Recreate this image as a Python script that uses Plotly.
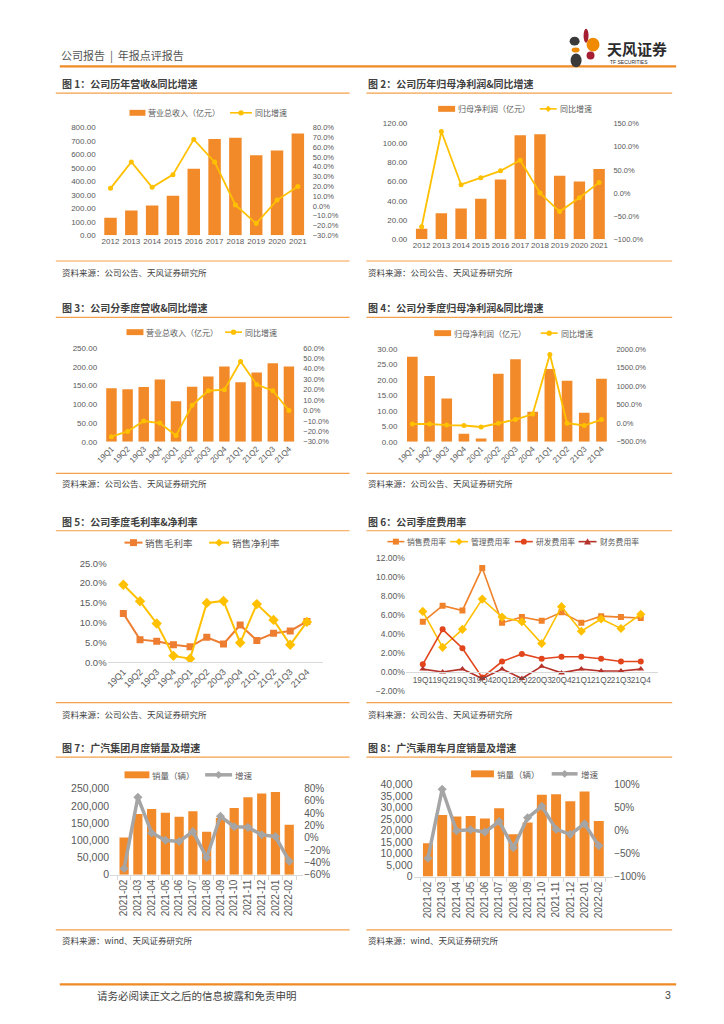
import plotly.graph_objects as go

# page is 724x1024; the html body adds an 8px margin, so the figure is 708x1008
PW, PH = 724, 1024
OFF = 8
FW, FH = PW - 2 * OFF, PH - 2 * OFF
def fx(px): return (px - OFF) / FW
def fy(py): return 1 - (py - OFF) / FH

# ---------------- data ----------------
years = ['2012', '2013', '2014', '2015', '2016', '2017', '2018', '2019', '2020', '2021']
rev_annual = [130, 185, 222, 294, 494, 716, 724, 594, 631, 757]
rev_annual_yoy = [18, 45, 19, 32, 68, 45, 1, -18, 6, 20]
np_annual = [11, 27, 32, 42, 62, 108, 109, 66, 60, 73]
np_annual_yoy = [-73, 133, 18, 33, 48, 71, 0, -40, -10, 23]

quarters = ['19Q1', '19Q2', '19Q3', '19Q4', '20Q1', '20Q2', '20Q3', '20Q4', '21Q1', '21Q2', '21Q3', '21Q4']
rev_q = [143, 140, 146, 166, 108, 147, 174, 201, 159, 185, 209, 201]
rev_q_yoy = [-25, -20, -10, -12, -24, 5, 19, 20, 47, 25, 19, 0]
np_q = [27.5, 21.3, 14.0, 2.6, 1.1, 22.0, 26.7, 9.7, 23.5, 19.7, 9.4, 20.4]
np_q_yoy = [-20, -20, -50, -60, -100, 0, 100, 250, 1850, 0, -60, 100]

gross_margin = [12.3, 5.7, 5.3, 4.4, 3.9, 6.3, 4.6, 9.4, 5.5, 7.3, 7.9, 10.3]
net_margin = [19.6, 15.4, 9.8, 1.6, 0.9, 15.0, 15.5, 4.9, 14.7, 10.7, 4.4, 10.2]

sell_exp = [5.3, 7.0, 6.5, 11.0, 5.2, 5.8, 5.4, 6.3, 5.2, 5.9, 5.8, 5.7]
admin_exp = [6.4, 2.6, 4.5, 7.7, 5.8, 5.3, 3.0, 6.9, 4.3, 5.6, 4.6, 6.1]
rd_exp = [0.8, 4.5, 2.5, -0.6, 1.1, 1.9, 1.4, 1.6, 1.6, 1.4, 1.1, 1.1]
fin_exp = [0.3, 0.0, 0.3, -0.7, 0.3, -0.7, 0.6, -0.1, 0.3, 0.1, 0.1, 0.3]

months = ['2021-02', '2021-03', '2021-04', '2021-05', '2021-06', '2021-07', '2021-08',
          '2021-09', '2021-10', '2021-11', '2021-12', '2022-01', '2022-02']
gac_sales = [108000, 176000, 191000, 180000, 168000, 184000, 125000, 165000, 194000, 225000, 236000, 240000, 145000]
gac_yoy = [-50, 66, 8, -4, -6, 10, -32, 35, 18, 17, 5, 2, -38]
gacpv_sales = [14500, 26800, 26200, 26400, 25300, 29700, 18400, 23500, 35600, 35900, 32800, 37000, 24200]
gacpv_yoy = [-60, 90, 0, 2, -3, 20, -37, 28, 53, 3, -8, 15, -33]

titles = ['图 1：公司历年营收&同比增速', '图 2：公司历年归母净利润&同比增速',
          '图 3：公司分季度营收&同比增速', '图 4：公司分季度归母净利润&同比增速',
          '图 5：公司季度毛利率&净利率', '图 6：公司季度费用率',
          '图 7：广汽集团月度销量及增速', '图 8：广汽乘用车月度销量及增速']
src_a = '资料来源：公司公告、天风证券研究所'
src_b = '资料来源：wind、天风证券研究所'

# ---------------- styles ----------------
BAR = '#F28A2A'
YEL = '#FFC000'
GRAY = '#A5A5A5'
ORG = '#ED7D31'
SELL = '#F0822A'
RD = '#E2441C'
FIN = '#B5332A'
TXT = '#595959'
LINEC = '#F5A04A'
FONT = 'Liberation Sans, Noto Sans CJK SC, sans-serif'
CJK = 'Noto Sans CJK SC, sans-serif'

fig = go.Figure()
layout = {}
shapes = []
annotations = []

def ax(n):
    return '' if n == 1 else str(n)

def set_axes(n, xpx, ypx, yrange, ydtick, yfmt, ysuffix, y2=None, ytickfont=8,
             tickangle=0, xtickfont=8, xline=False, xticks=''):
    # xpx=(left,right) ypx=(bottom,top) in page pixels
    layout[f'xaxis{ax(n)}'] = dict(domain=[fx(xpx[0]), fx(xpx[1])], anchor=f'y{ax(n)}',
                                   type='category', tickangle=tickangle, dtick=1,
                                   tickfont=dict(size=xtickfont, color=TXT, family=FONT),
                                   showgrid=False, zeroline=False, showline=xline,
                                   linecolor='#D9D9D9', linewidth=1, ticks=xticks,
                                   tickson='boundaries' if xticks else None,
                                   ticklen=4, tickcolor='#D9D9D9', fixedrange=True)
    layout[f'yaxis{ax(n)}'] = dict(domain=[fy(ypx[0]), fy(ypx[1])], anchor=f'x{ax(n)}',
                                   range=yrange, dtick=ydtick, tick0=yrange[0],
                                   tickformat=yfmt, ticksuffix=ysuffix,
                                   tickfont=dict(size=ytickfont, color=TXT, family=FONT),
                                   showgrid=False, zeroline=False, showline=False, ticks='',
                                   fixedrange=True)
    if y2:
        layout[f'yaxis{n + 10}'] = dict(overlaying=f'y{ax(n)}', side='right', anchor=f'x{ax(n)}',
                                        range=y2[0], dtick=y2[1], tick0=y2[0][0],
                                        tickformat=y2[2], ticksuffix=y2[3],
                                        tickfont=dict(size=y2[4], color=TXT, family=FONT),
                                        showgrid=False, zeroline=False, showline=False,
                                        fixedrange=True)

def bar(n, cats, vals, width):
    fig.add_trace(go.Bar(x=cats, y=vals, marker=dict(color=BAR, line=dict(width=0)),
                         width=width, xaxis=f'x{ax(n)}', yaxis=f'y{ax(n)}',
                         showlegend=False, hoverinfo='skip'))

def line(n, cats, vals, color, symbol, msize, lw, secondary=True):
    fig.add_trace(go.Scatter(x=cats, y=vals, mode='lines+markers',
                             line=dict(color=color, width=lw),
                             marker=dict(color=color, symbol=symbol, size=msize),
                             xaxis=f'x{ax(n)}', yaxis=f'y{n + 10}' if secondary else f'y{ax(n)}',
                             showlegend=False, hoverinfo='skip'))

def hline(x0, x1, y, color, width):
    shapes.append(dict(type='line', xref='paper', yref='paper', x0=fx(x0), x1=fx(x1),
                       y0=fy(y), y1=fy(y), line=dict(color=color, width=width)))

def text(x, y, s, size, color='#404040', bold=False, xanchor='left', family=CJK):
    annotations.append(dict(xref='paper', yref='paper', x=fx(x), y=fy(y),
                            text=f'<b>{s}</b>' if bold else s,
                            showarrow=False, xanchor=xanchor, yanchor='middle',
                            xshift=0, yshift=0, borderpad=0,
                            font=dict(size=size, color=color, family=family)))

# ---- legend keys (drawn as page furniture) ----
def key_bar(x0, x1, y, h, label, size):
    shapes.append(dict(type='rect', xref='paper', yref='paper', x0=fx(x0), x1=fx(x1),
                       y0=fy(y + h / 2), y1=fy(y - h / 2), fillcolor=BAR, line=dict(width=0)))
    text(x1 + 2, y, label, size, TXT)

def marker_shape(cx, cy, r, symbol, color):
    if symbol == 'circle':
        shapes.append(dict(type='circle', xref='paper', yref='paper', x0=fx(cx - r), x1=fx(cx + r),
                           y0=fy(cy + r), y1=fy(cy - r), fillcolor=color, line=dict(width=0)))
    elif symbol == 'square':
        shapes.append(dict(type='rect', xref='paper', yref='paper', x0=fx(cx - r), x1=fx(cx + r),
                           y0=fy(cy + r), y1=fy(cy - r), fillcolor=color, line=dict(width=0)))
    else:
        if symbol == 'diamond':
            pts = [(cx, cy - r * 1.2), (cx + r * 1.2, cy), (cx, cy + r * 1.2), (cx - r * 1.2, cy)]
        else:
            pts = [(cx, cy - r), (cx + r, cy + r * 0.8), (cx - r, cy + r * 0.8)]
        path = 'M ' + ' L '.join(f'{fx(a):.5f} {fy(b):.5f}' for a, b in pts) + ' Z'
        shapes.append(dict(type='path', xref='paper', yref='paper', path=path,
                           fillcolor=color, line=dict(width=0)))

def key_line(x0, x1, y, color, lw, symbol, r, label, size):
    hline(x0, x1, y, color, lw)
    marker_shape((x0 + x1) / 2, y, r, symbol, color)
    text(x1 + 2, y, label, size, TXT)

# Chart 1
bar(1, years, rev_annual, 0.6)
line(1, years, rev_annual_yoy, YEL, 'circle', 5, 1.8)
set_axes(1, (94, 310), (232, 123), [0, 800], 100, '.2f', '',
         y2=([-30, 80], 10, '.1f', '%', 7.5))
key_bar(127, 143, 108, 6, '营业总收入（亿元）', 8)
key_line(228, 250, 108, YEL, 1.6, 'circle', 2.7, '同比增速', 8)

# Chart 2
bar(2, years, np_annual, 0.58)
line(2, years, np_annual_yoy, YEL, 'circle', 5, 1.8)
set_axes(2, (407, 612), (236, 119), [0, 120], 20, '.2f', '',
         y2=([-100, 150], 50, '.1f', '%', 7.5))
key_bar(437, 454, 104, 6, '归母净利润（亿元）', 8)
key_line(539, 556, 104, YEL, 1.6, 'diamond', 2.6, '同比增速', 8)

# Chart 3
bar(3, quarters, rev_q, 0.65)
line(3, quarters, rev_q_yoy, YEL, 'circle', 5, 1.8)
set_axes(3, (95.5, 300.5), (441, 346), [0, 250], 50, '.2f', '',
         y2=([-30, 60], 10, '.1f', '%', 7.5), tickangle=-45)
key_bar(124, 141, 330, 6, '营业总收入（亿元）', 8)
key_line(223, 240, 330, YEL, 1.6, 'circle', 2.7, '同比增速', 8)

# Chart 4
bar(4, quarters, np_q, 0.62)
line(4, quarters, np_q_yoy, YEL, 'circle', 5, 1.8)
set_axes(4, (397, 615), (441, 347), [0, 30], 5, '.2f', '',
         y2=([-500, 2000], 500, '.1f', '%', 7.5), tickangle=-45)
key_bar(433, 450, 331, 6, '归母净利润（亿元）', 8)
key_line(540, 557, 331, YEL, 1.6, 'circle', 2.7, '同比增速', 8)

# Chart 5
line(5, quarters, gross_margin, ORG, 'square', 7, 2, secondary=False)
line(5, quarters, net_margin, YEL, 'diamond', 8, 2, secondary=False)
set_axes(5, (105, 321), (664, 564), [0, 25], 5, '.1f', '%', ytickfont=9.5, tickangle=-45,
         xtickfont=9, xline=True)
key_line(122, 140, 543, ORG, 2, 'square', 3.5, '销售毛利率', 9.5)
key_line(207, 227, 543, YEL, 2, 'diamond', 3.3, '销售净利率', 9.5)

# Chart 6
line(6, quarters, sell_exp, SELL, 'square', 6, 1.6, secondary=False)
line(6, quarters, admin_exp, YEL, 'diamond', 7, 1.6, secondary=False)
line(6, quarters, rd_exp, RD, 'circle', 6, 1.6, secondary=False)
line(6, quarters, fin_exp, FIN, 'triangle-up', 6, 1.6, secondary=False)
set_axes(6, (404.5, 657.5), (693, 559), [-2, 12], 2, '.2f', '%', ytickfont=8.5, xtickfont=8.3,
         xline=True)
layout['xaxis6'].update(anchor='free', position=fy(674))
key_line(386, 403, 542, SELL, 1.6, 'square', 3, '销售费用率', 7.8)
key_line(449, 467, 542, YEL, 1.6, 'diamond', 3, '管理费用率', 7.8)
key_line(514, 532, 542, RD, 1.6, 'circle', 3, '研发费用率', 7.8)
key_line(578, 596, 542, FIN, 1.6, 'triangle', 3.5, '财务费用率', 7.8)

# Chart 7
bar(7, months, gac_sales, 0.67)
line(7, months, gac_yoy, GRAY, 'diamond', 7, 3.5)
set_axes(7, (107.5, 301.5), (879, 792), [0, 250000], 50000, ',d', '',
         y2=([-60, 80], 20, 'd', '%', 10), ytickfont=10.5, tickangle=-90, xtickfont=10,
         xline=True, xticks='outside')
key_bar(122, 147, 778, 7, '销量（辆）', 8.5)
key_line(203, 230, 778, GRAY, 3.5, 'diamond', 3.3, '增速', 8.5)

# Chart 8
bar(8, months, gacpv_sales, 0.7)
line(8, months, gacpv_yoy, GRAY, 'diamond', 7, 3.5)
set_axes(8, (412.3, 612.7), (881, 788), [0, 40000], 5000, ',d', '',
         y2=([-100, 100], 50, 'd', '%', 10), ytickfont=10.5, tickangle=-90, xtickfont=10,
         xline=True, xticks='outside')
key_bar(470, 493, 777, 7, '销量（辆）', 8.5)
key_line(551, 577, 777, GRAY, 3.5, 'diamond', 3.3, '增速', 8.5)

# ---------------- page furniture ----------------
# header
text(57, 50, '公司报告  |  年报点评报告', 11, '#555555')
hline(57, 676, 61, '#F08A24', 2.2)
# logo petals
petals = [((583, 23), (588, 37), '#A61E32'),
          ((569, 31), (579, 40), '#3A3A3A'),
          ((586, 32), (599, 46), '#F08A00'),
          ((571, 42), (579, 47), '#F08A00'),
          ((586, 46), (594, 54), '#A61E32'),
          ((570, 48), (581, 62), '#3A3A3A')]
for (a, b, c) in petals:
    shapes.append(dict(type='circle', xref='paper', yref='paper', x0=fx(a[0]), x1=fx(b[0]),
                       y0=fy(b[1]), y1=fy(a[1]), fillcolor=c, line=dict(width=0)))
text(606, 43, '天风证券', 15, '#2B2B2B', bold=True)
text(609, 56.5, 'TF SECURITIES', 5, '#2B2B2B', family=FONT)

# chart titles & lines: (title y, underline y, source line y, source text y)
rows = [(78, 88, 258, 269), (305, 315, 473, 483), (522, 531, 705, 716), (750, 760, 935, 945)]
for i, t in enumerate(titles):
    r = rows[i // 2]
    left = (i % 2 == 0)
    x0, x1 = (53, 348) if left else (365, 672)
    tx = 58 if left else 366
    text(tx, r[0], t, 10, '#404040', bold=True)
    hline(x0, x1, r[1], LINEC, 1.2)
    hline(x0, x1, r[2], LINEC, 1.2)
    text(tx, r[3], src_b if i >= 6 else src_a, 8.5, '#404040')

# footer
hline(57, 676, 990, '#F08A24', 2.2)
text(93, 1001, '请务必阅读正文之后的信息披露和免责申明', 10.5, '#444444')
text(672, 1001, '3', 10.5, '#444444', xanchor='right', family=FONT)

fig.update_layout(**layout)
fig.update_layout(width=FW, height=FH, autosize=False, margin=dict(l=0, r=0, t=0, b=0),
                  paper_bgcolor='white', plot_bgcolor='white', barmode='overlay',
                  font=dict(family=FONT, color=TXT), shapes=shapes, annotations=annotations,
                  hovermode=False, showlegend=False)

fig.write_html('out.html', config=dict(displayModeBar=False, responsive=False))
